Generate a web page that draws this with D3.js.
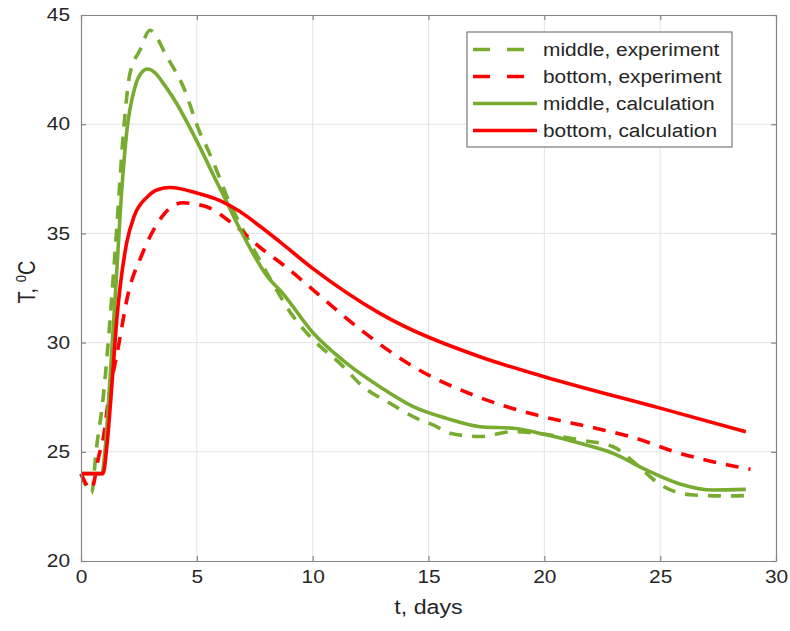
<!DOCTYPE html>
<html><head><meta charset="utf-8">
<script src="https://cdn.jsdelivr.net/npm/d3@7"></script>
<style>
body{margin:0;background:#fff;}
svg{display:block;font-family:"Liberation Sans",Arial,sans-serif;}
</style></head>
<body><svg id="c" width="790" height="631"></svg>
<script>
// ---- data ----
const xTicks = [0,5,10,15,20,25,30];
const yTicks = [20,25,30,35,40,45];
const seriesNames = ["middle, experiment","bottom, experiment","middle, calculation","bottom, calculation"];

const tMidExp = [0,0.46,0.65,0.96,1.25,1.54,1.83,2.11,2.55,2.98,3.7,4.42,5.14,5.45,6.0,6.29,7.0,7.87,9.16,10.03,11.18,12.18,13.34,14.49,15.2,15.93,17.22,18.66,20,21.54,22.97,24.0,25.0,26.43,27.87,28.9];
const TMidExp = [24,23.1,25.0,27.5,31.0,35.2,39.6,42.3,43.4,44.3,43.1,41.7,39.6,38.9,37.5,36.7,35.16,33.48,31.2,30.12,29.05,27.98,27.22,26.53,26.23,25.85,25.7,25.92,25.8,25.54,25.23,24.4,23.5,23.02,22.98,23.0];

const tBotExp = [0,0.45,0.79,0.94,1.2,1.61,2.04,2.62,3.05,3.6,3.95,4.41,4.85,5.42,6.43,7.87,8.8,10.03,12.18,14.34,16.93,19.67,22.26,23.7,25.85,28.3,28.9];
const TBotExp = [24,23.3,24.9,25.5,27.5,29.8,32.26,34.0,35.0,35.9,36.25,36.4,36.35,36.22,35.54,34.24,33.5,32.4,30.5,28.9,27.6,26.68,26.07,25.7,24.93,24.32,24.2];

const tMidCalc = [0,0.9,1.05,1.25,1.5,1.76,1.97,2.33,2.6,2.87,3.2,3.6,4.13,4.67,5.2,5.7,6.1,6.86,8.16,8.59,10.03,11.47,12.9,14.34,15.78,17.22,18.66,20,21.54,22.97,24.4,25.85,27.29,28.7];
const TMidCalc = [24,24,25.2,28.3,32.5,37.0,39.6,41.7,42.35,42.53,42.35,41.8,40.95,39.9,38.8,37.7,36.85,35.2,32.87,32.4,30.43,29.05,27.98,27.07,26.53,26.15,26.08,25.8,25.39,24.93,24.17,23.53,23.25,23.28];

const tBotCalc = [0,0.95,1.12,1.35,1.54,1.97,2.3,2.84,3.3,3.84,5.0,6.0,6.86,7.7,8.6,10.0,12.9,17.22,20,25,28.7];
const TBotCalc = [24,24,25.3,28.3,31.0,34.56,35.8,36.65,37.0,37.1,36.85,36.5,36.0,35.35,34.6,33.4,31.34,29.35,28.44,27.0,25.92];

const GREEN = "#77AC30", RED = "#FF0000";

// ---- chart ----
const svg = d3.select("#c");
const L = 81, R = 776, T = 15, B = 561;
const x = d3.scaleLinear().domain([0,30]).range([L,R]);
const y = d3.scaleLinear().domain([20,45]).range([B,T]);
const SX = 1.16;

// grid
const grid = svg.append("g");
grid.selectAll("line.gx").data(xTicks.slice(1,-1)).join("line")
  .attr("x1",d=>x(d)).attr("x2",d=>x(d)).attr("y1",T).attr("y2",B)
  .attr("stroke","#e3e3e3").attr("stroke-width",1);
grid.selectAll("line.gy").data(yTicks.slice(1,-1)).join("line")
  .attr("y1",d=>y(d)).attr("y2",d=>y(d)).attr("x1",L).attr("x2",R)
  .attr("stroke","#e3e3e3").attr("stroke-width",1);

// lines
const mk = (ts, vs) => ts.map((t,i)=>[t, vs[i]]);
const line = d3.line().x(d=>x(d[0])).y(d=>y(d[1])).curve(d3.curveMonotoneX);
const series = [
  {data: mk(tMidExp,TMidExp), color: GREEN, dash: "13,10"},
  {data: mk(tBotExp,TBotExp), color: RED, dash: "13,10"},
  {data: mk(tMidCalc,TMidCalc), color: GREEN, dash: null},
  {data: mk(tBotCalc,TBotCalc), color: RED, dash: null}
];
const plot = svg.append("g");
series.forEach(s=>{
  plot.append("path").attr("d", line(s.data)).attr("fill","none")
    .attr("stroke", s.color).attr("stroke-width", 3.6)
    .attr("stroke-dasharray", s.dash).attr("stroke-linejoin","round");
});

// axes
const axColor = "#858585";
function styleAxis(g){
  g.select(".domain").attr("stroke",axColor).attr("stroke-width",1.2);
  g.selectAll(".tick line").attr("stroke",axColor).attr("stroke-width",1.2);
  g.selectAll(".tick text").attr("fill","#262626").style("font-size","18px")
    .style("font-family","'Liberation Sans',Arial,sans-serif");
}
const gx = svg.append("g").attr("transform",`translate(0,${B})`)
  .call(d3.axisBottom(x).tickValues(xTicks).tickSize(-5).tickSizeOuter(0).tickPadding(9).tickFormat(d3.format("d")));
styleAxis(gx);
gx.selectAll(".tick text").attr("transform",`scale(${SX},1)`);
const gy = svg.append("g").attr("transform",`translate(${L},0)`)
  .call(d3.axisLeft(y).tickValues(yTicks).tickSize(-5).tickSizeOuter(0).tickPadding(11).tickFormat(d3.format("d")));
styleAxis(gy);
gy.selectAll(".tick text").attr("x",-11/SX).attr("transform",`scale(${SX},1)`);
const gt = svg.append("g").attr("transform",`translate(0,${T})`)
  .call(d3.axisTop(x).tickValues(xTicks).tickSize(-5).tickSizeOuter(0).tickFormat(""));
styleAxis(gt);
const gr = svg.append("g").attr("transform",`translate(${R},0)`)
  .call(d3.axisRight(y).tickValues(yTicks).tickSize(-5).tickSizeOuter(0).tickFormat(""));
styleAxis(gr);

// axis labels
svg.append("text").attr("transform",`translate(${(L+R)/2},614) scale(${SX},1)`)
  .attr("text-anchor","middle").attr("fill","#262626").style("font-size","20px").text("t, days");
const yl = svg.append("text").attr("transform",`translate(35,${(T+B)/2-6}) rotate(-90) scale(1,${SX})`)
  .attr("text-anchor","middle").attr("fill","#262626").style("font-size","20px");
yl.append("tspan").text("T, ");
yl.append("tspan").attr("dy",-8).style("font-size","13px").text("0");
yl.append("tspan").attr("dy",8).text("C");

// legend
const lg = svg.append("g");
lg.append("rect").attr("x",467).attr("y",32).attr("width",265).attr("height",115)
  .attr("fill","#fff").attr("stroke","#7a7a7a").attr("stroke-width",1.2);
seriesNames.forEach((name,i)=>{
  const s = series[i];
  const yy = 49.5 + i*27;
  lg.append("line").attr("x1",473).attr("x2",537).attr("y1",yy).attr("y2",yy)
    .attr("stroke",s.color).attr("stroke-width",3.6)
    .attr("stroke-dasharray", s.dash ? "17,17" : null);
  lg.append("text").attr("transform",`translate(543,${yy}) scale(${SX},1)`)
    .attr("dy","0.35em").attr("fill","#262626").style("font-size","18px").text(name);
});
</script></body></html>
